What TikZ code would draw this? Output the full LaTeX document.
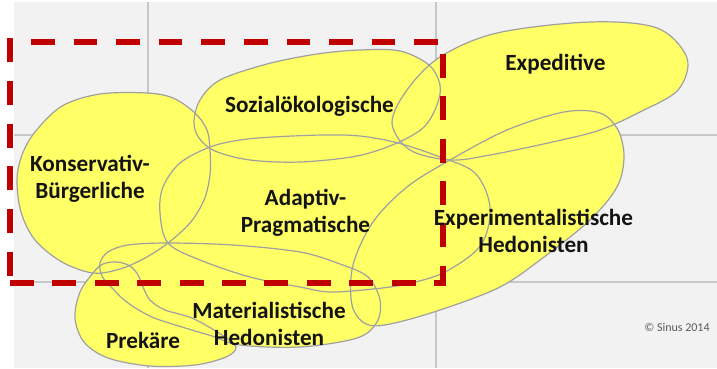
\documentclass[tikz,border=0pt]{standalone}
\usepackage{fontspec}
\setmainfont{Carlito}
\definecolor{panel}{RGB}{242,242,242}
\definecolor{gridgray}{RGB}{200,200,200}
\definecolor{milieu}{RGB}{255,255,102}
\definecolor{rimgray}{RGB}{160,160,160}
\definecolor{framered}{RGB}{192,0,0}
\definecolor{labelink}{RGB}{20,20,20}
\definecolor{notegray}{RGB}{90,90,90}

% outlines of the milieus (pixel-like coordinates, y grows downwards)
\newcommand\pathKB{plot[smooth cycle, tension=0.55] coordinates {(147,93) (173,98) (195,113) (207,130) (210,150) (210,175) (204,200) (190,223) (168,243) (145,258) (120,269) (93,273) (62,262) (35,240) (21,212) (17,180) (22,155) (35,132) (62,106) (100,94)}}
\newcommand\pathSO{plot[smooth cycle, tension=0.55] coordinates {(194,122) (200,100) (220,80) (267,64) (317,54) (360,50) (400,51) (429,65) (440,85) (437,105) (424,127) (397,143) (357,156) (300,162) (250,160) (215,151) (199,138)}}
\newcommand\pathEX{plot[smooth cycle, tension=0.55] coordinates {(392,123) (407,90) (440,57) (497,33) (590,22) (657,28) (687,58) (678,90) (640,112) (600,130) (557,141) (490,155) (450,160) (410,150)}}
\newcommand\pathXH{plot[smooth cycle, tension=0.55] coordinates {(450,160) (507,130) (564,112) (600,113) (618,130) (624,157) (617,187) (590,220) (544,257) (500,287) (440,310) (390,324) (366,324) (352,305) (353,265) (373,222) (407,187)}}
\newcommand\pathAP{plot[smooth cycle, tension=0.55] coordinates {(210,147) (240,140) (273,137) (323,135) (360,136) (398,143) (440,157) (475,173) (490,207) (481,245) (445,272) (407,284) (373,289) (330,292) (300,287) (250,277) (200,260) (168,243) (160,213) (163,187) (180,163)}}
\newcommand\pathMH{plot[smooth cycle, tension=0.55] coordinates {(100,263) (108,252) (128,245) (168,243) (233,245) (300,252) (340,264) (368,277) (380,300) (377,322) (357,338) (300,347) (240,345) (212,336) (182,327) (152,317) (128,303) (112,288) (102,276)}}
\newcommand\pathPR{plot[smooth cycle, tension=0.55] coordinates {(93,273) (80,292) (75,318) (84,342) (108,358) (150,366) (195,365) (226,357) (236,347) (222,335) (192,318) (165,310) (150,300) (143,287) (138,275) (130,266) (117,262) (103,264)}}

\begin{document}
\begin{tikzpicture}[x=1pt,y=-1pt,
  blob/.style={fill=milieu},
  rim/.style={draw=rimgray, line width=1.2pt},
  gridline/.style={draw=gridgray, line width=1.1pt},
  frameside/.style={draw=framered, line width=6pt},
  milieulabel/.style={font=\bfseries\fontsize{23.2}{27}\selectfont, text=labelink, align=center, inner sep=0pt, anchor=base},
]
\useasboundingbox (0,0) rectangle (717,368);
\fill[white] (0,0) rectangle (717,368);
\fill[panel] (14,2) rectangle (717,368);

% quadrant lines behind the milieus
\draw[gridline] (148,2) -- (148,368);
\draw[gridline] (436,2) -- (436,368);
\draw[gridline] (14,135) -- (717,135);
\draw[gridline] (14,282) -- (717,282);

% milieu areas: fills first, then every outline on top
\fill[blob] \pathKB;
\fill[blob] \pathSO;
\fill[blob] \pathEX;
\fill[blob] \pathXH;
\fill[blob] \pathAP;
\fill[blob] \pathMH;
\fill[blob] \pathPR;
\draw[rim] \pathKB;
\draw[rim] \pathSO;
\draw[rim] \pathEX;
\draw[rim] \pathXH;
\draw[rim] \pathAP;
\draw[rim] \pathMH;
\draw[rim] \pathPR;

% red dashed frame, one side at a time
\coordinate (fl1) at (9.7,38);   \coordinate (fl2) at (9.7,285);
\coordinate (fb1) at (10,282.7); \coordinate (fb2) at (446,282.7);
\coordinate (ft1) at (31,41.7);  \coordinate (ft2) at (438,41.7);
\coordinate (fr1) at (443,54);   \coordinate (fr2) at (443,285.7);
\draw[frameside, dash pattern=on 24pt off 18.8pt] (fl1) -- (fl2);
\draw[frameside, dash pattern=on 24pt off 18.4pt] (fb1) -- (fb2);
\draw[frameside, dash pattern=on 23.5pt off 19.1pt] (ft1) -- (ft2);
\draw[frameside, dash pattern=on 24pt off 18.3pt] (fr1) -- (fr2);

% labels (the base anchor of a two-line label sits on its last line)
\node[milieulabel] (kb) at (90,198) {Konservativ-\\Bürgerliche};
\node[milieulabel] (so) at (309.5,112) {Sozialökologische};
\node[milieulabel] (ex) at (555.5,70) {Expeditive};
\node[milieulabel] (ap) at (305.5,232) {Adaptiv-\\Pragmatische};
\node[milieulabel] (xh) at (533.5,252) {Experimentalistische\\Hedonisten};
\node[milieulabel] (mh) at (269,345) {Materialistische\\Hedonisten};
\node[milieulabel] (pr) at (143,348) {Prekäre};
\node[font=\fontsize{12}{14}\selectfont, text=notegray, inner sep=0pt, anchor=base] (note) at (677,331) {© Sinus 2014};
\end{tikzpicture}
\end{document}
